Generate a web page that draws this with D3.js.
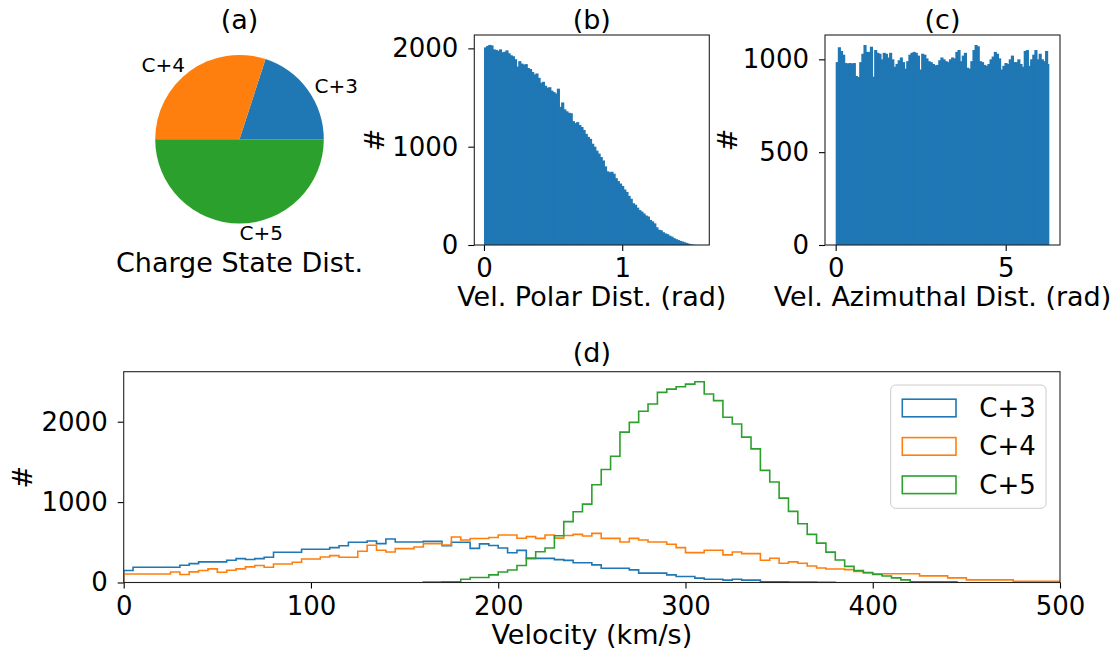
<!DOCTYPE html>
<html>
<head>
<meta charset="utf-8">
<script src="https://cdn.jsdelivr.net/npm/d3@7"></script>
<style>
  body { margin: 0; background: #fff; }
  svg text { font-family: "DejaVu Sans", sans-serif; fill: #000; }
</style>
</head>
<body>
<svg id="fig" width="1116" height="654"></svg>
<script>
// ---- data ----
const chargeStates = ["C+3", "C+4", "C+5"];
const chargeFractions = [0.2, 0.3, 0.5];
const seriesColors = ["#1f77b4", "#ff7f0e", "#2ca02c"];

// (b) polar angle histogram, 100 bins from 0 rad
const polarBinStart = 0;
const polarBinWidth = 0.0155;
const polarCounts = [
  2010, 2025, 2035, 2030, 1990, 1985, 1975, 1990, 1960, 1965,
  1980, 1950, 1930, 1920, 1890, 1815, 1870, 1845, 1835, 1840,
  1800, 1790, 1760, 1735, 1745, 1700, 1650, 1660, 1620, 1600,
  1605, 1570, 1555, 1540, 1590, 1405, 1450, 1380, 1360, 1345,
  1340, 1260, 1240, 1250, 1220, 1200, 1170, 1130, 1100, 1080,
  1030, 1000, 960, 930, 895, 860, 800, 750, 740, 745,
  725, 680, 650, 625, 600, 565, 540, 500, 470, 425,
  410, 380, 355, 340, 320, 300, 290, 255, 240, 220,
  180, 155, 150, 130, 118, 110, 95, 85, 70, 60,
  50, 42, 35, 28, 20, 12, 7, 3, 1, 0
];

// (c) azimuthal angle histogram, 100 bins over [0, 2π]
const azimuthBinStart = 0;
const azimuthBinWidth = 2 * Math.PI / 100;
const azimuthCounts = [
  985, 1065, 1045, 1025, 980, 978, 980, 978, 980, 910,
  905, 985, 1030, 1077, 1040, 1040, 1068, 907, 1050, 1035,
  1030, 1000, 1035, 1030, 1010, 1035, 1000, 960, 975, 995,
  1010, 985, 950, 990, 1025, 1035, 1040, 1035, 1020, 945,
  1030, 1025, 1005, 990, 985, 975, 968, 970, 995, 1010,
  1000, 990, 985, 1000, 1010, 1005, 1040, 1050, 990, 1020,
  1035, 955, 950, 990, 1050, 1077, 1070, 990, 985, 970,
  965, 975, 1000, 1015, 1040, 1030, 1005, 945, 965, 980,
  975, 1000, 1020, 985, 985, 1000, 975, 960, 1045, 1050,
  965, 1000, 1025, 1050, 1000, 1030, 1000, 990, 1045, 975
];

// (d) velocity histograms, 5 km/s bins
const velBinWidth = 5;
const velStartC3 = 0;
const velCountsC3 = [
  149, 190, 190, 190, 190, 190, 215, 235, 256, 256,
  256, 277, 297, 287, 297, 314, 376, 376, 376, 413,
  413, 413, 434, 458, 500, 500, 516, 483, 541, 504,
  504, 504, 512, 512, 458, 500, 500, 425, 480, 460,
  430, 370, 400, 300, 300, 300, 285, 275, 245, 245,
  219, 178, 178, 178, 157, 116, 116, 116, 95, 74,
  74, 54, 41, 41, 29, 41, 29, 29, 10, 8,
  8, 6, 6, 5, 4, 3
];
const velStartC4 = 0;
const velCountsC4 = [
  105, 105, 105, 105, 105, 130, 100, 132, 149, 169,
  128, 153, 169, 194, 211, 190, 231, 231, 252, 293,
  293, 318, 334, 314, 314, 388, 463, 401, 380, 421,
  421, 442, 483, 483, 467, 566, 529, 547, 547, 560,
  591, 591, 550, 570, 549, 591, 552, 585, 599, 578,
  611, 549, 549, 504, 549, 529, 504, 504, 475, 434,
  372, 372, 401, 401, 343, 380, 359, 359, 277, 301,
  240, 256, 240, 206, 180, 168, 168, 160, 136, 118,
  108, 108, 108, 108, 108, 83, 83, 83, 58, 58,
  33, 33, 33, 33, 33, 15, 15, 15, 15, 15
];
const velStartC5 = 160;
const velCountsC5 = [
  5, 5, 8, 10, 41, 62, 62, 95, 130, 155,
  211, 300, 383, 430, 582, 757, 880, 975, 1215, 1405,
  1570, 1870, 1992, 2130, 2220, 2365, 2405, 2435, 2468, 2497,
  2345, 2262, 2055, 1972, 1808, 1662, 1395, 1250, 1050, 885,
  730, 598, 490, 378, 280, 200, 148, 125, 100, 80,
  58, 33, 10, 10, 10, 10, 10
];

// tick values
const polarTicks = [0, 1];
const polarCountTicks = [0, 1000, 2000];
const azimuthTicks = [0, 5];
const azimuthCountTicks = [0, 500, 1000];
const velocityTicks = [0, 100, 200, 300, 400, 500];
const velocityCountTicks = [0, 1000, 2000];

// ---- drawing ----
const svg = d3.select("#fig");
const TICK_FONT = "26px";
const LABEL_FONT = "27px";

function styleAxis(g) {
  g.select(".domain").remove();
  g.selectAll(".tick line").attr("stroke", "#000").attr("stroke-width", 1.1);
  g.selectAll(".tick text").style("font-size", TICK_FONT)
    .style("font-family", '"DejaVu Sans", sans-serif').attr("fill", "#000");
}

function drawFrame(box, xs, ys, xTicks, yTicks, title, xlabel, ylabelX, titleY, xlabelY) {
  const g = svg.append("g");
  g.append("g").attr("transform", `translate(0,${box.bottom})`)
    .call(d3.axisBottom(xs).tickValues(xTicks).tickFormat(d3.format("d")).tickSize(6).tickPadding(8))
    .call(styleAxis);
  g.append("g").attr("transform", `translate(${box.left},0)`)
    .call(d3.axisLeft(ys).tickValues(yTicks).tickFormat(d3.format("d")).tickSize(6).tickPadding(10))
    .call(styleAxis);
  g.append("rect")
    .attr("x", box.left).attr("y", box.top)
    .attr("width", box.right - box.left).attr("height", box.bottom - box.top)
    .attr("fill", "none").attr("stroke", "#222").attr("stroke-width", 1.1);
  const cx = (box.left + box.right) / 2;
  g.append("text").attr("x", cx).attr("y", titleY).attr("text-anchor", "middle")
    .style("font-size", LABEL_FONT).text(title);
  g.append("text").attr("x", cx).attr("y", xlabelY).attr("text-anchor", "middle")
    .style("font-size", LABEL_FONT).text(xlabel);
  const cy = (box.top + box.bottom) / 2;
  g.append("text").attr("transform", `translate(${ylabelX},${cy}) rotate(-90)`)
    .attr("text-anchor", "middle").attr("dominant-baseline", "central")
    .style("font-size", LABEL_FONT).text("#");
  return g;
}

// contiguous histogram bars (each bar slightly overlaps the next to avoid seams)
function drawBars(g, xs, ys, start, width, counts, color) {
  g.append("g").selectAll("rect").data(counts).join("rect")
    .attr("x", (d, i) => xs(start + i * width))
    .attr("width", (d, i) => xs(start + (i + 1) * width) - xs(start + i * width) + (i < counts.length - 1 ? 1 : 0))
    .attr("y", d => ys(d))
    .attr("height", d => ys(0) - ys(d))
    .attr("fill", color);
}

// (a) pie chart
(function () {
  const cx = 239.5, cy = 139.2, r = 84.3;
  const g = svg.append("g").attr("transform", `translate(${cx},${cy})`);
  const pie = d3.pie().sort(null).value(d => d)
    .startAngle(Math.PI / 2).endAngle(Math.PI / 2 - 2 * Math.PI);
  const arcs = pie(chargeFractions);
  const arc = d3.arc().innerRadius(0).outerRadius(r);
  g.selectAll("path").data(arcs).join("path")
    .attr("d", arc).attr("fill", (d, i) => seriesColors[i]);
  g.selectAll("text.lbl").data(arcs).join("text").attr("class", "lbl")
    .each(function (d, i) {
      const m = (d.startAngle + d.endAngle) / 2;
      const sx = Math.sin(m), cyv = Math.cos(m);
      d3.select(this)
        .attr("x", 1.1 * r * sx).attr("y", -1.1 * r * cyv + 1)
        .attr("text-anchor", sx > -1e-9 ? "start" : "end")
        .attr("dominant-baseline", "central")
        .style("font-size", "20px")
        .text(chargeStates[i]);
    });
  svg.append("text").attr("x", cx).attr("y", 28.5).attr("text-anchor", "middle")
    .style("font-size", LABEL_FONT).text("(a)");
  svg.append("text").attr("x", cx).attr("y", 271.5).attr("text-anchor", "middle")
    .style("font-size", LABEL_FONT).text("Charge State Dist.");
})();

// (b) polar distribution
(function () {
  const box = { left: 474.3, right: 709.3, top: 35, bottom: 245 };
  const xs = d3.scaleLinear().domain([-0.07, 1.63]).range([box.left, box.right]);
  const ys = d3.scaleLinear().domain([0, 2136]).range([box.bottom, box.top]);
  const g = svg.append("g");
  drawBars(g, xs, ys, polarBinStart, polarBinWidth, polarCounts, seriesColors[0]);
  drawFrame(box, xs, ys, polarTicks, polarCountTicks, "(b)", "Vel. Polar Dist. (rad)", 374, 28.5, 306);
})();

// (c) azimuthal distribution
(function () {
  const box = { left: 825, right: 1060, top: 35, bottom: 245 };
  const xs = d3.scaleLinear().domain([-0.314, 6.597]).range([box.left, box.right]);
  const ys = d3.scaleLinear().domain([0, 1131]).range([box.bottom, box.top]);
  const g = svg.append("g");
  drawBars(g, xs, ys, azimuthBinStart, azimuthBinWidth, azimuthCounts, seriesColors[0]);
  drawFrame(box, xs, ys, azimuthTicks, azimuthCountTicks, "(c)", "Vel. Azimuthal Dist. (rad)", 727, 28.5, 306);
})();

// (d) velocity distributions per charge state
(function () {
  const box = { left: 123.7, right: 1060, top: 371.7, bottom: 582.5 };
  const xs = d3.scaleLinear().domain([0, 500]).range([box.left, box.right]);
  const ys = d3.scaleLinear().domain([0, 2622]).range([box.bottom, box.top]);
  svg.append("clipPath").attr("id", "clipD").append("rect")
    .attr("x", box.left).attr("y", box.top)
    .attr("width", box.right - box.left).attr("height", box.bottom - box.top);
  const series = [
    { name: chargeStates[0], start: velStartC3, counts: velCountsC3, color: seriesColors[0] },
    { name: chargeStates[1], start: velStartC4, counts: velCountsC4, color: seriesColors[1] },
    { name: chargeStates[2], start: velStartC5, counts: velCountsC5, color: seriesColors[2] }
  ];
  const line = d3.line().x(p => xs(p[0])).y(p => ys(p[1]));
  const g = svg.append("g").attr("clip-path", "url(#clipD)");
  series.forEach(s => {
    const pts = [[s.start, 0]];
    s.counts.forEach((c, i) => {
      pts.push([s.start + i * velBinWidth, c]);
      pts.push([s.start + (i + 1) * velBinWidth, c]);
    });
    pts.push([s.start + s.counts.length * velBinWidth, 0]);
    g.append("path").attr("d", line(pts))
      .attr("fill", "none").attr("stroke", s.color).attr("stroke-width", 1.6)
      .attr("stroke-linejoin", "miter");
  });
  drawFrame(box, xs, ys, velocityTicks, velocityCountTicks, "(d)", "Velocity (km/s)", 22, 361.5, 644);

  // legend
  const lg = svg.append("g");
  lg.append("rect").attr("x", 890.7).attr("y", 385).attr("width", 155.3).attr("height", 123.3)
    .attr("rx", 5).attr("fill", "#fff").attr("fill-opacity", 0.8)
    .attr("stroke", "#cccccc").attr("stroke-width", 1);
  series.forEach((s, i) => {
    const yc = 408 + i * 38.4;
    lg.append("rect").attr("x", 902.3).attr("y", yc - 8.8).attr("width", 53.7).attr("height", 17.6)
      .attr("fill", "none").attr("stroke", s.color).attr("stroke-width", 1.6);
    lg.append("text").attr("x", 979.3).attr("y", yc).attr("dominant-baseline", "central")
      .style("font-size", TICK_FONT).text(s.name);
  });
})();
</script>
</body>
</html>
